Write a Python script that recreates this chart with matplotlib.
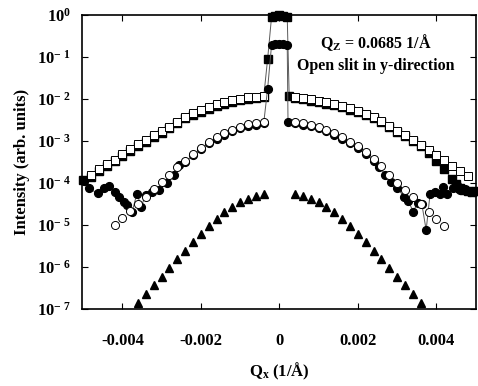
import numpy as np
from matplotlib import pyplot as plt
from matplotlib.ticker import FixedLocator, FixedFormatter

plt.rcParams['font.family'] = ['Liberation Serif', 'DejaVu Serif']
plt.rcParams['font.weight'] = 'bold'
plt.rcParams['mathtext.fontset'] = 'custom'
plt.rcParams['mathtext.rm'] = 'Liberation Serif:bold'
plt.rcParams['mathtext.it'] = 'Liberation Serif:bold'
plt.rcParams['mathtext.bf'] = 'Liberation Serif:bold'

# qx in units of 1e-4 1/A, intensity stored as log10 values
open_sq_x = [-48, -46, -44, -42, -40, -38, -36, -34, -32, -30, -28, -26, -24, -22, -20, -18, -16, -14, -12, -10, -8, -6, -4,
             4, 6, 8, 10, 12, 14, 16, 18, 20, 22, 24, 26, 28, 30, 32, 34, 36, 38, 40, 42, 44, 46, 48]
open_sq_log = [-3.81, -3.67, -3.55, -3.44, -3.31, -3.20, -3.08, -2.98, -2.86, -2.76, -2.66, -2.54, -2.42, -2.34, -2.27,
               -2.20, -2.13, -2.08, -2.03, -1.99, -1.96, -1.95, -1.92,
               -1.94, -1.98, -2.01, -2.04, -2.08, -2.12, -2.17, -2.22, -2.29, -2.35, -2.42, -2.52, -2.64, -2.75,
               -2.86, -2.97, -3.09, -3.21, -3.33, -3.45, -3.60, -3.71, -3.83]

fill_sq_x = [-50, -48, -46, -44, -42, -40, -38, -36, -34, -32, -30, -28, -26, -24, -22, -20, -18, -16, -14, -12, -10, -8, -6, -4,
             -3, -2, -1, 0, 1, 2, 2.5, 4, 6, 8, 10, 12, 14, 16, 18, 20, 22, 24, 26, 28, 30, 32, 34, 36, 38, 40, 42, 44,
             45, 46, 47, 48, 49, 50]
fill_sq_log = [-3.92, -3.85, -3.71, -3.59, -3.48, -3.35, -3.24, -3.12, -3.02, -2.90, -2.80, -2.70, -2.58, -2.46, -2.38,
               -2.30, -2.23, -2.16, -2.11, -2.06, -2.02, -1.99, -1.97, -1.95,
               -1.05, -0.05, -0.03, 0.0, -0.02, -0.04, -1.93,
               -1.97, -2.01, -2.04, -2.07, -2.11, -2.15, -2.20, -2.25, -2.32, -2.38, -2.45, -2.55, -2.67, -2.78,
               -2.89, -3.00, -3.13, -3.28, -3.47, -3.67, -3.90,
               -4.02, -4.12, -4.17, -4.20, -4.22, -4.20]

open_ci_x = [-42, -40, -38, -36, -34, -32, -30, -28, -26, -24, -22, -20, -18, -16, -14, -12, -10, -8, -6, -4,
             4, 6, 8, 10, 12, 14, 16, 18, 20, 22, 24, 26, 28, 30, 32, 34, 36, 38, 40, 42]
open_ci_log = [-5.00, -4.84, -4.67, -4.49, -4.33, -4.15, -3.97, -3.80, -3.62, -3.47, -3.31, -3.17, -3.02, -2.91, -2.82,
               -2.74, -2.66, -2.60, -2.58, -2.55,
               -2.55, -2.58, -2.62, -2.67, -2.74, -2.82, -2.91, -3.02, -3.13, -3.27, -3.43, -3.60, -3.81, -4.01,
               -4.17, -4.33, -4.50, -4.68, -4.86, -5.02]

fill_ci_x = [-49.7, -48.6, -46.3, -44.8, -43.3, -41.8, -40.8, -39.6, -38.8, -37.5, -36.3, -35.2, -34.1, -32.4, -30.7,
             -28.6, -26.9, -25.6, -24, -22, -20, -18, -16, -14, -12, -10, -8, -6, -4,
             -3, -2, -1, 0, 1, 2, 2.2, 4, 6, 8, 10, 12, 14, 16, 18, 20, 22, 24, 25.5, 27, 28.5, 30, 31.8, 32.8,
             34.1, 35.2, 36.3, 37.4, 38.4, 39.7, 41.0, 41.8, 42.6, 44.3, 45.2, 46.0, 47.3, 48.6, 49.7]
fill_ci_log = [-3.95, -4.13, -4.24, -4.13, -4.06, -4.21, -4.33, -4.45, -4.52, -4.68, -4.25, -4.56, -4.29, -4.21, -4.17,
               -4.01, -3.81, -3.57, -3.50, -3.34, -3.20, -3.05, -2.94, -2.85, -2.77, -2.70, -2.64, -2.61, -2.58,
               -1.76, -0.72, -0.69, -0.68, -0.69, -0.72, -2.54,
               -2.58, -2.61, -2.65, -2.70, -2.77, -2.85, -2.94, -3.05, -3.17, -3.30, -3.47, -3.62, -3.80, -3.97,
               -4.12, -4.33, -4.42, -4.68, -4.48, -4.50, -5.12, -4.26, -4.21, -4.26, -4.10, -4.26, -4.13, -4.05,
               -4.17, -4.15, -4.21, -4.21]

tri_x = [-36, -34, -32, -30, -28, -26, -24, -22, -20, -18, -16, -14, -12, -10, -8, -6, -4,
         4, 6, 8, 10, 12, 14, 16, 18, 20, 22, 24, 26, 28, 30, 32, 34, 36]
tri_log = [-6.85, -6.64, -6.44, -6.23, -6.03, -5.82, -5.61, -5.40, -5.21, -5.02, -4.86, -4.70, -4.56, -4.45, -4.37,
           -4.30, -4.26,
           -4.26, -4.31, -4.37, -4.45, -4.56, -4.70, -4.86, -5.02, -5.21, -5.40, -5.61, -5.82, -6.03, -6.23,
           -6.44, -6.64, -6.85]

xticks = [-0.004, -0.002, 0, 0.002, 0.004]
xtick_labels = ['-0.004', '-0.002', '0', '0.002', '0.004']
yexp = [0, -1, -2, -3, -4, -5, -6, -7]


def q(v):
    return np.array(v) * 1e-4


def inten(v):
    return 10.0 ** np.array(v)


fig = plt.figure(figsize=(4.78, 3.86), dpi=100)
ax = fig.add_axes([0.1715, 0.1995, 0.8243, 0.7615])

ax.plot(q(fill_sq_x), inten(fill_sq_log), '-', color='0.35', lw=0.7, marker='s', ms=5.2,
        mfc='k', mec='k', clip_on=False, zorder=2)
ax.plot(q(open_sq_x), inten(open_sq_log), 's', ms=5.6, mfc='white', mec='k', mew=0.7, zorder=3)
ax.plot(q(fill_ci_x), inten(fill_ci_log), '-', color='0.35', lw=0.7, marker='o', ms=5.6,
        mfc='k', mec='k', zorder=4)
ax.plot(q(open_ci_x), inten(open_ci_log), 'o', ms=5.8, mfc='white', mec='k', mew=0.7, zorder=5)
ax.plot(q(tri_x), inten(tri_log), '^', ms=5.6, mfc='k', mec='k', zorder=5)

ax.set_yscale('log')
ax.set_xlim(-0.00503, 0.00501)
ax.set_ylim(1e-7, 1)
ax.xaxis.set_major_locator(FixedLocator(xticks))
ax.xaxis.set_major_formatter(FixedFormatter(xtick_labels))
ax.yaxis.set_major_locator(FixedLocator([10.0 ** e for e in yexp]))
ax.yaxis.set_major_formatter(FixedFormatter(
    [r'$10^{0}$' if e == 0 else r'$10^{-\ %d}$' % (-e) for e in yexp]))
ax.minorticks_off()
ax.tick_params(which='both', direction='in', top=True, right=True, length=4, width=0.8)
ax.tick_params(axis='x', pad=17, labelsize=12)
ax.tick_params(axis='y', pad=8, labelsize=12)
for s in ax.spines.values():
    s.set_linewidth(1.2)

ax.set_ylabel('Intensity (arb. units)', fontsize=12, fontweight='bold', labelpad=5)
ax.set_xlabel(r'Q$_{\mathrm{x}}$ (1/Å)', fontsize=12, fontweight='bold', labelpad=9)

ax.text(0.745, 0.905, r'Q$_{\mathrm{Z}}$ = 0.0685 1/Å', transform=ax.transAxes,
        ha='center', va='center', fontsize=11.5, fontweight='bold')
ax.text(0.745, 0.828, 'Open slit in y-direction', transform=ax.transAxes,
        ha='center', va='center', fontsize=11.5, fontweight='bold')

fig.savefig('out.png', dpi=100)
